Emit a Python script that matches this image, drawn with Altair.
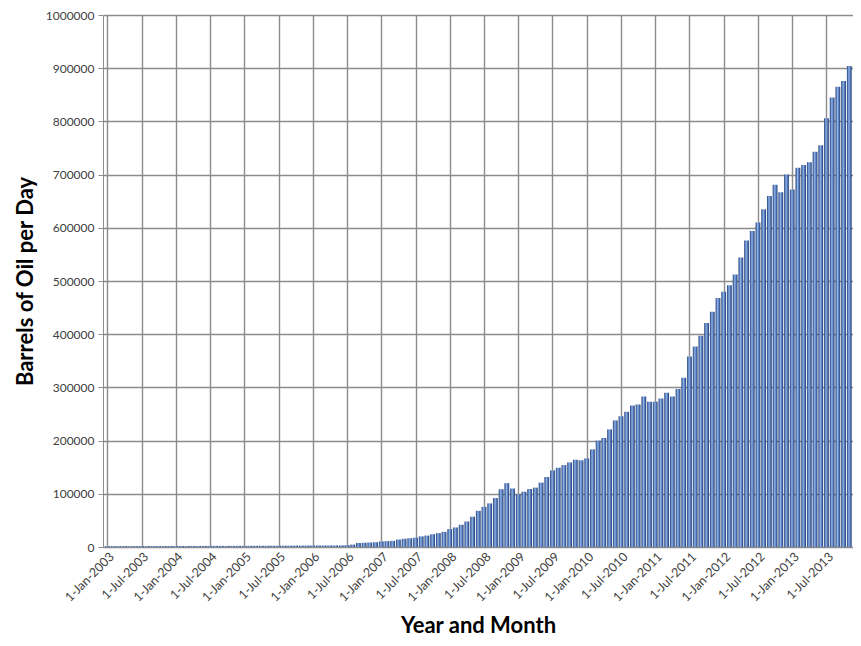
import altair as alt
import pandas as pd

# Monthly values, Jan 2003 .. Nov 2013 (barrels of oil per day)
y2003 = [1600, 1600, 1700, 1700, 1600, 1700, 1700, 1800, 1700, 1800, 1800, 1900]
y2004 = [1800, 1900, 1900, 2000, 1900, 2000, 2000, 2100, 2000, 2100, 2100, 2200]
y2005 = [2100, 2200, 2200, 2300, 2300, 2400, 2400, 2500, 2500, 2600, 2600, 2700]
y2006 = [2700, 2800, 2800, 2900, 2900, 3000, 3500, 4500, 7500, 8000, 8500, 9000]
y2007 = [10500, 11000, 11500, 14000, 15500, 16500, 17500, 20000, 21500, 24000, 26000, 28500]
y2008 = [33700, 36700, 41800, 48000, 57000, 68000, 75500, 82000, 92000, 108600, 120000, 110000]
y2009 = [99000, 104000, 109000, 111600, 121000, 131600, 144000, 149000, 154000, 159000, 164000, 163000]
y2010 = [166600, 183500, 200000, 205000, 221000, 238000, 246000, 254000, 266000, 268000, 283000, 273000]
y2011 = [273000, 279000, 290000, 283000, 297000, 318000, 358000, 377000, 397000, 421000, 442000, 468000]
y2012 = [480000, 492000, 512000, 544000, 576000, 594000, 610000, 635000, 660000, 681000, 667000, 700000]
y2013 = [672000, 713000, 718000, 723000, 743000, 755000, 806000, 845000, 865000, 876000, 904000]

months = ["Jan", "Feb", "Mar", "Apr", "May", "Jun", "Jul", "Aug", "Sep", "Oct", "Nov", "Dec"]
years = list(range(2003, 2014))
series = [y2003, y2004, y2005, y2006, y2007, y2008, y2009, y2010, y2011, y2012, y2013]

tick_labels = [f"1-{m}-{y}" for y in years for m in ("Jan", "Jul")]
y_ticks = list(range(0, 1000001, 100000))

rows = []
idx = 0
for yr, vals in zip(years, series):
    for k, v in enumerate(vals):
        rows.append({"i": idx, "month": f"1-{months[k]}-{yr}", "value": v})
        idx += 1
df = pd.DataFrame(rows)

label_array = "[" + ",".join(f"'{t}'" for t in tick_labels) + "]"

FONT = "Lato"

bar_fill = alt.Gradient(
    gradient="linear",
    x1=0, x2=1, y1=0, y2=0,
    stops=[
        alt.GradientStop(color="#243f75", offset=0),
        alt.GradientStop(color="#5479b8", offset=0.22),
        alt.GradientStop(color="#93b3e3", offset=0.42),
        alt.GradientStop(color="#6689c6", offset=0.62),
        alt.GradientStop(color="#365897", offset=0.85),
        alt.GradientStop(color="#243f75", offset=1),
    ],
)

chart = (
    alt.Chart(df)
    .transform_calculate(lo="datum.i - 0.42", hi="datum.i + 0.42", base="0")
    .mark_bar(fill=bar_fill)
    .encode(
        x=alt.X(
            "lo:Q",
            scale=alt.Scale(domain=[-0.75, 130.65], nice=False, zero=False),
            axis=alt.Axis(
                values=list(range(0, 127, 6)),
                labelExpr=f"{label_array}[round(datum.value/6)]",
                labelAngle=-45,
                labelOverlap=False,
                labelFontSize=12.5,
                labelFont=FONT,
                labelColor="#404040",
                labelPadding=3,
                tickSize=0,
                grid=True,
                gridColor="#8c8c8c",
                gridWidth=1.4,
                domainColor="#8c8c8c",
                title="Year and Month",
                titleFont=FONT,
                titleFontSize=22,
                titleFontWeight="bold",
                titleColor="#000000",
                titlePadding=12,
            ),
        ),
        x2="hi:Q",
        y=alt.Y(
            "value:Q",
            scale=alt.Scale(domain=[0, 1000000], nice=False),
            axis=alt.Axis(
                values=y_ticks,
                format="d",
                labelFontSize=12,
                labelFont=FONT,
                labelColor="#404040",
                labelPadding=4,
                tickSize=5,
                tickColor="#8c8c8c",
                grid=True,
                gridColor="#8c8c8c",
                gridWidth=1.4,
                domainColor="#8c8c8c",
                title="Barrels of Oil per Day",
                titleFont=FONT,
                titleFontSize=22,
                titleFontWeight="bold",
                titleColor="#000000",
                titlePadding=8,
            ),
        ),
        y2="base:Q",
        tooltip=["month:N", "value:Q"],
    )
    .properties(
        width=750,
        height=532,
        autosize=alt.AutoSizeParams(type="none"),
        padding={"left": 95, "top": 7, "right": 0, "bottom": 91},
    )
    .configure_view(strokeWidth=0)
)

chart.save("out.html", embed_options={"renderer": "svg", "actions": False})
